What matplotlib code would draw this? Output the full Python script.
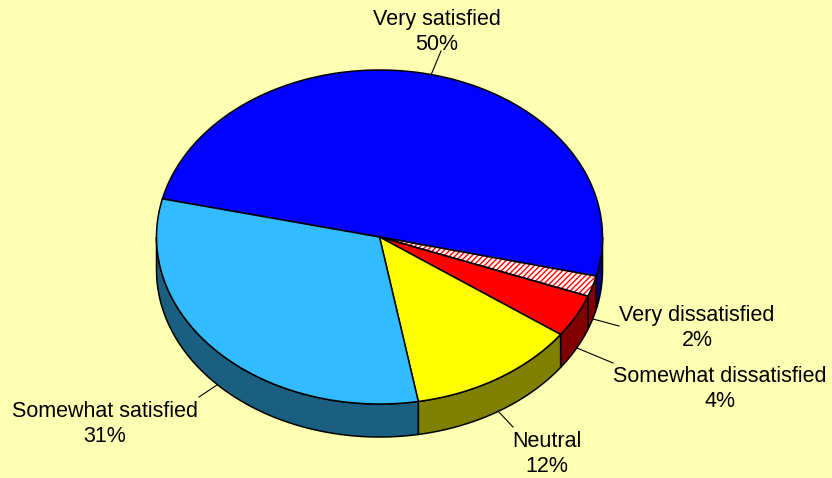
"""satisfaction pie, drawn as a tilted 3d disc"""
import numpy as np
import matplotlib
matplotlib.use('Agg')
import matplotlib.pyplot as plt
from matplotlib.patches import Polygon

labels = ['Very satisfied', 'Very dissatisfied', 'Somewhat dissatisfied', 'Neutral', 'Somewhat satisfied']
shown = ['50%', '2%', '4%', '12%', '31%']
# real slice sizes, a bit finer than the rounded labels
values = [50.1, 2.0, 4.15, 12.3, 31.45]
face_colors = ['#0000ff', '#ffffff', '#ff0000', '#ffff00', '#33bbff']
side_colors = ['#000080', '#800000', '#800000', '#808000', '#1a5e80']

start_deg = 166.8
cx, cy, rx, ry, depth = 379.5, 237.0, 223.0, 167.0, 33.0

plt.rcParams['font.family'] = ['Liberation Sans', 'DejaVu Sans']
plt.rcParams['hatch.linewidth'] = 1.0

fig = plt.figure(figsize=(8.32, 4.78), dpi=100, facecolor='#ffffb4')
ax = fig.add_axes([0, 0, 1, 1])
ax.set_xlim(0, 832)
ax.set_ylim(478, 0)
ax.axis('off')


def arc(a0, a1, drop=0.0):
	t = np.radians(np.linspace(a0, a1, 200))
	return np.column_stack([cx + rx*np.cos(t), cy - ry*np.sin(t) + drop])


# slices go clockwise from the left edge of the blue one
edges = start_deg - np.cumsum([0] + values) * 3.6

# outer wall, only the front half of the rim (-180..0 deg) shows
for i in range(len(values)):
	lo, hi = max(edges[i+1], -180), min(edges[i], 0)
	if hi <= lo:
		continue
	top = arc(hi, lo)
	bot = arc(lo, hi, depth)
	ax.add_patch(Polygon(np.vstack([top, bot]), closed=True, fc=side_colors[i], ec='black', lw=1.1, zorder=2))

# top faces
for i in range(len(values)):
	pts = np.vstack([[cx, cy], arc(edges[i], edges[i+1])])
	if i == 1:
		# hatch takes the edge colour, so outline goes on separately
		ax.add_patch(Polygon(pts, closed=True, fc='#ffffff', ec='#ff0000', lw=0, hatch='//////', zorder=3))
		ax.add_patch(Polygon(pts, closed=True, fill=False, ec='black', lw=1.1, zorder=4))
	else:
		ax.add_patch(Polygon(pts, closed=True, fc=face_colors[i], ec='black', lw=1.1, zorder=3))

# label text position and leader line ends
label_xy = [(437, 32), (697, 328), (720, 389), (547, 454), (105, 424)]
leader = [((431, 75), (441, 51)),
	((593, 319), (619, 326)),
	((577, 348), (613, 363)),
	((498, 411), (513, 427)),
	((217, 385), (199, 397))]

for i in range(len(labels)):
	ax.text(label_xy[i][0], label_xy[i][1], labels[i] + '\n' + shown[i], ha='center', va='center',
		fontsize=15.5, color='black', linespacing=1.2, zorder=6)
	p, q = leader[i]
	ax.plot([p[0], q[0]], [p[1], q[1]], color='black', lw=0.8, zorder=5)

fig.savefig('out.png', dpi=100, facecolor=fig.get_facecolor())
